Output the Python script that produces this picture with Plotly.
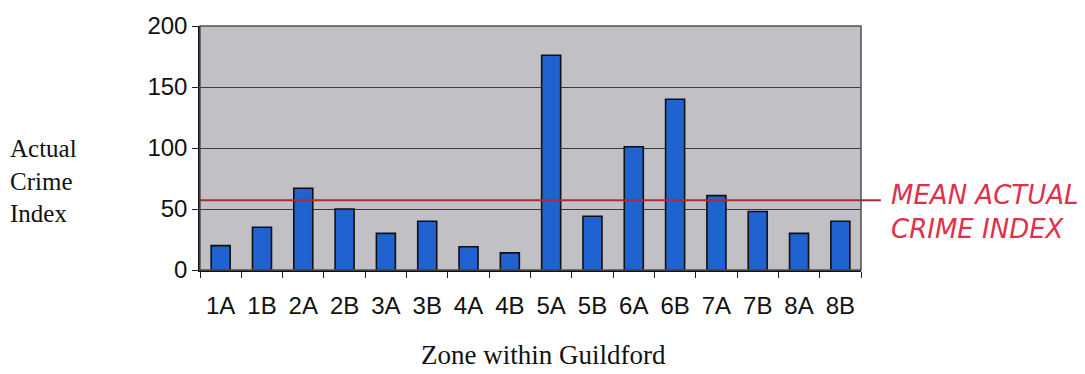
import plotly.graph_objects as go

# Actual crime index by zone
zones = ["1A", "1B", "2A", "2B", "3A", "3B", "4A", "4B",
         "5A", "5B", "6A", "6B", "7A", "7B", "8A", "8B"]
crime_index = [20, 35, 67, 50, 30, 40, 19, 14,
               176, 44, 101, 140, 61, 48, 30, 40]
y_ticks = [0, 50, 100, 150, 200]

mean_index = sum(crime_index) / len(crime_index)

fig = go.Figure()
fig.add_trace(go.Bar(
    x=zones, y=crime_index,
    width=0.46,
    marker=dict(color="#1f62d0", line=dict(color="#101010", width=1.6)),
    showlegend=False,
))

# Mean line, running out past the plot toward its label
fig.add_shape(type="line", xref="paper", yref="y",
              x0=0, x1=1.03, y0=mean_index, y1=mean_index,
              line=dict(color="#b02833", width=2.2), layer="above")

# Plot-area frame (top / right)
fig.add_shape(type="rect", xref="paper", yref="paper",
              x0=0, x1=1, y0=0, y1=1,
              line=dict(color="#505050", width=1.5), layer="above")

fig.add_annotation(xref="paper", yref="paper", x=0, y=0.364,
                   xshift=-192, xanchor="left", yanchor="middle",
                   align="left", showarrow=False,
                   text="Actual<br>Crime<br>Index",
                   font=dict(family="Liberation Serif", size=25, color="#111"))

fig.add_annotation(xref="paper", yref="paper", x=0.5, y=0,
                   xshift=13, yshift=-85, xanchor="center", yanchor="middle",
                   showarrow=False, text="Zone within Guildford",
                   font=dict(family="Liberation Serif", size=27, color="#111"))

fig.add_annotation(xref="paper", yref="paper", x=1, y=0.239,
                   xshift=28, xanchor="left", yanchor="middle",
                   align="left", showarrow=False,
                   text="MEAN ACTUAL<br>CRIME INDEX",
                   font=dict(family="DejaVu Sans", size=26, color="#e0304a",
                             style="italic"))

fig.update_layout(
    width=1085, height=374,
    margin=dict(l=200, r=224, t=23, b=104),
    paper_bgcolor="white",
    plot_bgcolor="#c1c1c5",
    bargap=0.54,
)
fig.update_xaxes(
    type="category",
    showline=True, linecolor="#101010", linewidth=1.5,
    ticks="outside", tickson="boundaries", ticklen=6, tickcolor="#202020",
    ticklabelstandoff=13,
    tickfont=dict(family="Liberation Sans", size=24, color="#111"),
    showgrid=False,
)
fig.update_yaxes(
    range=[0, 200], tickvals=y_ticks,
    showline=True, linecolor="#101010", linewidth=1.5,
    ticks="outside", ticklen=6, tickcolor="#202020",
    tickfont=dict(family="Liberation Sans", size=24, color="#111"),
    showgrid=True, gridcolor="#3a3a3a", gridwidth=1,
    zeroline=False,
)

fig.write_html("out.html")
